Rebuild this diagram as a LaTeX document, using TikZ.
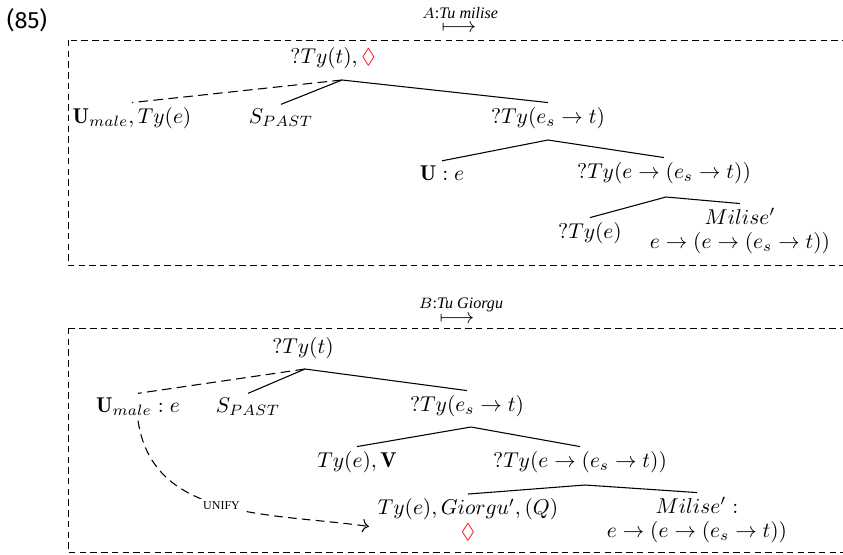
\documentclass[tikz,border=0pt]{standalone}
\usepackage{amsmath,amssymb}
\usepackage{xcolor}
\usepackage{fontspec}
\newfontfamily\exfont{Fira Sans}
\newfontfamily\glossfont{Liberation Serif}
\usepackage{tikz}
\usetikzlibrary{arrows.meta}

\begin{document}
\begin{tikzpicture}[x=0.0164cm, y=0.0164cm,
    tn/.style={inner sep=2pt, align=center},
    br/.style={line width=0.5pt},
    lnk/.style={line width=0.5pt, dash pattern=on 4.5pt off 2.5pt},
    box/.style={line width=0.4pt, dash pattern=on 3pt off 2pt},
    gloss/.style={inner sep=0pt, font=\glossfont\itshape\fontsize{7.5}{8}\selectfont},
    unif/.style={line width=0.5pt, dash pattern=on 4pt off 2.5pt, -{To[length=3pt]}}]
  % 1 unit = 1 px of the 843 x 554 frame
  \useasboundingbox (0,0) rectangle (843,-554);
  \node[font=\exfont\fontsize{11}{13}\selectfont] (ex) at (27,-20) {(85)};

  % step A
  \node[inner sep=0pt] (arA) at (459,-28.5) {$\longmapsto$};
  \node[gloss] (stA) at (460,-13.5) {$A${\upshape:}Tu milise};
  \draw[box] (68,-40) rectangle (860,-265);
  \node[tn] (r1) at (333,-58)  {$?Ty(t), \textcolor{red}{\lozenge}$};
  \node[tn] (u1) at (132,-118) {$\mathbf{U}_{male}, Ty(e)$};
  \node[tn] (s1) at (281,-118) {$S_{PAST}$};
  \node[tn] (p1) at (548,-118) {$?Ty(e_s \rightarrow t)$};
  \node[tn] (ue) at (442,-173) {$\mathbf{U} : e$};
  \node[tn] (q1) at (664,-173) {$?Ty(e \rightarrow (e_s \rightarrow t))$};
  \node[tn] (te) at (590,-233) {$?Ty(e)$};
  \node[tn] (m1) at (740,-231) {$Milise'$\\[-0.8pt] $e \rightarrow (e \rightarrow (e_s \rightarrow t))$};
  \coordinate (r1b) at (342,-80);
  \coordinate (p1b) at (548,-140);
  \coordinate (q1b) at (666,-197);
  \draw[lnk] (r1b) -- (u1.north);
  \draw[br] (r1b) -- (s1.north);
  \draw[br] (r1b) -- (p1.north);
  \draw[br] (p1b) -- (ue.north);
  \draw[br] (p1b) -- (q1.north);
  \draw[br] (q1b) -- (te.north);
  \draw[br] (q1b) -- (m1.north);

  % step B
  \node[inner sep=0pt] (arB) at (457,-319.5) {$\longmapsto$};
  \node[gloss] (stB) at (461,-304.5) {$B${\upshape:}Tu Giorgu};
  \draw[box] (68,-328) rectangle (860,-552);
  \node[tn] (r2) at (303,-348) {$?Ty(t)$};
  \node[tn] (u2) at (138,-407) {$\mathbf{U}_{male} : e$};
  \node[tn] (s2) at (248,-407) {$S_{PAST}$};
  \node[tn] (p2) at (467,-406) {$?Ty(e_s \rightarrow t)$};
  \node[tn] (v2) at (357,-462) {$Ty(e), \mathbf{V}$};
  \node[tn] (q2) at (580,-462) {$?Ty(e \rightarrow (e_s \rightarrow t))$};
  \node[tn] (g2) at (468,-520) {$Ty(e), Giorgu', (Q)$\\[-0.8pt] $\textcolor{red}{\lozenge}$};
  \node[tn] (m2) at (697,-520) {$Milise' :$\\[-0.8pt] $e \rightarrow (e \rightarrow (e_s \rightarrow t))$};
  \coordinate (r2b) at (305,-369);
  \coordinate (p2b) at (471,-427);
  \coordinate (q2b) at (585,-485);
  \draw[lnk] (r2b) -- (u2.north);
  \draw[br] (r2b) -- (s2.north);
  \draw[br] (r2b) -- (p2.north);
  \draw[br] (p2b) -- (v2.north);
  \draw[br] (p2b) -- (q2.north);
  \draw[br] (q2b) -- (g2.north);
  \draw[br] (q2b) -- (m2.north);
  \draw[unif] (u2.south) .. controls +(15,-100) and +(-100,14) .. ([xshift=-2pt,yshift=-3pt]g2.west)
    node[pos=0.5, fill=white, inner sep=1.5pt, font=\glossfont\fontsize{5.6}{6}\selectfont] (un) {UNIFY};
\end{tikzpicture}
\end{document}
